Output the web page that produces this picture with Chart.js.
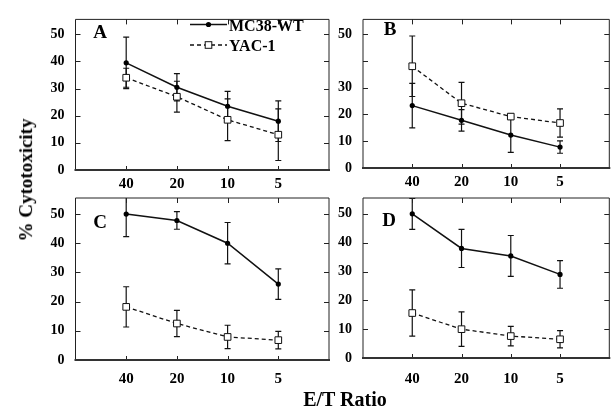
<!DOCTYPE html>
<html><head><meta charset="utf-8">
<script src="https://cdn.jsdelivr.net/npm/chart.js@4/dist/chart.umd.min.js"></script>
<style>
html,body{margin:0;padding:0;background:#fff;}
#wrap{position:relative;width:615px;height:420px;overflow:hidden;font-family:'Liberation Serif','Times New Roman',serif;background:#fff;}
canvas{position:absolute;left:0;top:0;}
.lbl{position:absolute;font-weight:bold;color:#000;white-space:nowrap;line-height:1.15;}
#ylab{left:26px;top:180px;font-size:19px;transform:translate(-50%,-50%) rotate(-90deg);}
#xlab{left:345px;top:399px;font-size:20px;transform:translate(-50%,-50%);}
</style></head><body>
<div id="wrap">
<canvas id="cA" width="615" height="420"></canvas>
<canvas id="cB" width="615" height="420"></canvas>
<canvas id="cC" width="615" height="420"></canvas>
<canvas id="cD" width="615" height="420"></canvas>
<div class="lbl" id="ylab">% Cytotoxicity</div>
<div class="lbl" id="xlab">E/T Ratio</div>
</div>
<script>
// ---- data ----
const ratios = ['40', '20', '10', '5'];
const xPos = [1, 2, 3, 4];
const yTicks = [0, 10, 20, 30, 40, 50];
const seriesNames = ['MC38-WT', 'YAC-1'];

const aMC38 = [39.5, 30.5, 23.5, 18];
const aMC38Err = [9.5, 5, 5.5, 7.5];
const aYAC = [34, 27, 18.5, 13];
const aYACErr = [3.5, 5.7, 7.7, 9.5];

const bMC38 = [23.3, 17.8, 12.3, 7.8];
const bMC38Err = [8.3, 4, 6.5, 2.3];
const bYAC = [38, 24.2, 19.2, 16.8];
const bYACErr = [11.3, 7.8, 1, 5.3];

const cMC38 = [50, 47.8, 40, 26];
const cMC38Err = [7.7, 3, 7.1, 5.2];
const cYAC = [18.2, 12.5, 7.9, 6.8];
const cYACErr = [6.9, 4.5, 4, 3];

const dMC38 = [50, 38, 35.4, 29];
const dMC38Err = [5.4, 6.6, 7.1, 4.8];
const dYAC = [15.6, 10, 7.6, 6.5];
const dYACErr = [8, 6, 3.4, 3];

// ---- drawing ----
const FONT = "'Liberation Serif','Times New Roman',serif";

const panelPlugin = {
  id: 'panel',
  beforeDatasetsDraw(chart) {
    const {ctx, chartArea: ca, scales: {x, y}} = chart;
    ctx.save();
    ctx.beginPath();
    ctx.rect(ca.left, ca.top, ca.right - ca.left, ca.bottom - ca.top);
    ctx.clip();
    ctx.strokeStyle = '#111';
    ctx.lineWidth = 1.2;
    chart.data.datasets.forEach(ds => {
      ds.data.forEach((p, i) => {
        const e = ds.errors[i];
        const px = x.getPixelForValue(p.x);
        const yt = y.getPixelForValue(p.y + e);
        const yb = y.getPixelForValue(p.y - e);
        ctx.beginPath();
        ctx.moveTo(px, yt); ctx.lineTo(px, yb);
        ctx.moveTo(px - 3, yt); ctx.lineTo(px + 3, yt);
        ctx.moveTo(px - 3, yb); ctx.lineTo(px + 3, yb);
        ctx.stroke();
      });
    });
    ctx.restore();
  },
  afterDraw(chart, args, o) {
    const {ctx, chartArea: ca, scales: {x, y}} = chart;
    ctx.save();
    ctx.strokeStyle = '#222';
    ctx.lineWidth = 1;
    ctx.beginPath();
    ctx.moveTo(ca.left, ca.bottom); ctx.lineTo(ca.left, ca.top);
    ctx.lineTo(ca.right, ca.top); ctx.lineTo(ca.right, ca.bottom);
    yTicks.forEach(v => {
      if (v === 0) return;
      const py = Math.round(y.getPixelForValue(v)) + 0.5;
      ctx.moveTo(ca.left, py); ctx.lineTo(ca.left + 5, py);
      ctx.moveTo(ca.right, py); ctx.lineTo(ca.right - 5, py);
    });
    xPos.forEach(v => {
      const px = Math.round(x.getPixelForValue(v)) + 0.5;
      ctx.moveTo(px, ca.top); ctx.lineTo(px, ca.top + 5);
      ctx.moveTo(px, ca.bottom); ctx.lineTo(px, ca.bottom - 4);
    });
    ctx.stroke();
    ctx.lineWidth = 2;
    ctx.strokeStyle = '#333';
    ctx.beginPath();
    ctx.moveTo(ca.left - 1, ca.bottom); ctx.lineTo(ca.right + 1, ca.bottom);
    ctx.stroke();

    ctx.fillStyle = '#000';
    ctx.font = 'bold 19px ' + FONT;
    ctx.textAlign = 'center';
    ctx.textBaseline = 'alphabetic';
    ctx.fillText(o.letter, o.lx, o.ly + 6.3);

    if (o.legend) {
      const L = o.legend;
      ctx.font = 'bold 16px ' + FONT;
      ctx.textAlign = 'left';
      ctx.strokeStyle = '#111';
      ctx.lineWidth = 1.5;
      ctx.setLineDash([]);
      ctx.beginPath(); ctx.moveTo(L.x0, L.y1); ctx.lineTo(L.x1, L.y1); ctx.stroke();
      ctx.beginPath(); ctx.arc((L.x0 + L.x1) / 2, L.y1, 2.6, 0, Math.PI * 2); ctx.fill();
      ctx.fillText(seriesNames[0], L.tx, L.y1 + 6.5);
      ctx.lineWidth = 1.3;
      ctx.setLineDash([4, 3]);
      ctx.beginPath(); ctx.moveTo(L.x0, L.y2); ctx.lineTo(L.x1, L.y2); ctx.stroke();
      ctx.setLineDash([]);
      ctx.fillStyle = '#fff';
      const sx = (L.x0 + L.x1) / 2;
      ctx.fillRect(sx - 3.3, L.y2 - 3.3, 6.6, 6.6);
      ctx.lineWidth = 1;
      ctx.strokeRect(sx - 3.3, L.y2 - 3.3, 6.6, 6.6);
      ctx.fillStyle = '#000';
      ctx.fillText(seriesNames[1], L.tx, L.y2 + 6);
    }
    ctx.restore();
  }
};

function makePanel(id, mc, mcErr, yac, yacErr, geo, extra) {
  const Y_W = 40, X_H = 30;
  const mk = (vals) => vals.map((v, i) => ({x: xPos[i], y: v}));
  new Chart(document.getElementById(id), {
    type: 'line',
    data: {
      datasets: [
        {
          label: seriesNames[0], data: mk(mc), errors: mcErr,
          borderColor: '#111', borderWidth: 1.5, backgroundColor: '#000',
          pointStyle: 'circle', pointRadius: 2.6, pointBorderWidth: 0,
          pointBackgroundColor: '#000', tension: 0, clip: false
        },
        {
          label: seriesNames[1], data: mk(yac), errors: yacErr,
          borderColor: '#111', borderWidth: 1.3, borderDash: [4, 3],
          pointStyle: 'rect', pointRadius: 4.7, pointBorderWidth: 1,
          pointBorderColor: '#111', pointBackgroundColor: '#fff', tension: 0, clip: false
        }
      ]
    },
    options: {
      responsive: false, devicePixelRatio: 1, animation: false,
      events: [],
      layout: {padding: {left: geo.left - Y_W, top: geo.top, right: 615 - geo.right, bottom: 420 - geo.bottom - X_H}},
      plugins: {legend: {display: false}, tooltip: {enabled: false},
        panel: extra},
      scales: {
        x: {
          type: 'linear', min: 0, max: 5,
          grid: {display: false, drawTicks: false}, border: {display: false},
          afterBuildTicks: s => { s.ticks = xPos.map(v => ({value: v})); },
          afterFit: s => { s.height = X_H; },
          ticks: {padding: geo.xpad, color: '#000', font: {family: FONT, size: 15, weight: 'bold'},
            callback: v => ratios[xPos.indexOf(v)] ?? ''}
        },
        y: {
          type: 'linear', min: 0, max: 55.5,
          grid: {display: false, drawTicks: false}, border: {display: false},
          afterBuildTicks: s => { s.ticks = yTicks.map(v => ({value: v})); },
          afterFit: s => { s.width = Y_W; },
          ticks: {padding: 11, color: '#000', font: {family: FONT, size: 14, weight: 'bold'},
            callback: v => (geo.hide && geo.hide.includes(v)) ? '' : String(v)}
        }
      }
    },
    plugins: [panelPlugin]
  });
}

makePanel('cA', aMC38, aMC38Err, aYAC, aYACErr,
  {left: 75.5, right: 329, top: 10.5, bottom: 170, xpad: 5},
  {letter: 'A', lx: 100, ly: 31.5, legend: {x0: 190, x1: 227, tx: 229, y1: 24.5, y2: 45}});
makePanel('cB', bMC38, bMC38Err, bYAC, bYACErr,
  {left: 363, right: 617, top: 8, bottom: 168, xpad: 5, hide: [40]},
  {letter: 'B', lx: 390, ly: 29});
makePanel('cC', cMC38, cMC38Err, cYAC, cYACErr,
  {left: 75.5, right: 329, top: 198, bottom: 360, xpad: 10},
  {letter: 'C', lx: 100, ly: 221.5});
makePanel('cD', dMC38, dMC38Err, dYAC, dYACErr,
  {left: 363, right: 617, top: 198, bottom: 358, xpad: 12},
  {letter: 'D', lx: 389, ly: 220});
</script>
</body></html>
